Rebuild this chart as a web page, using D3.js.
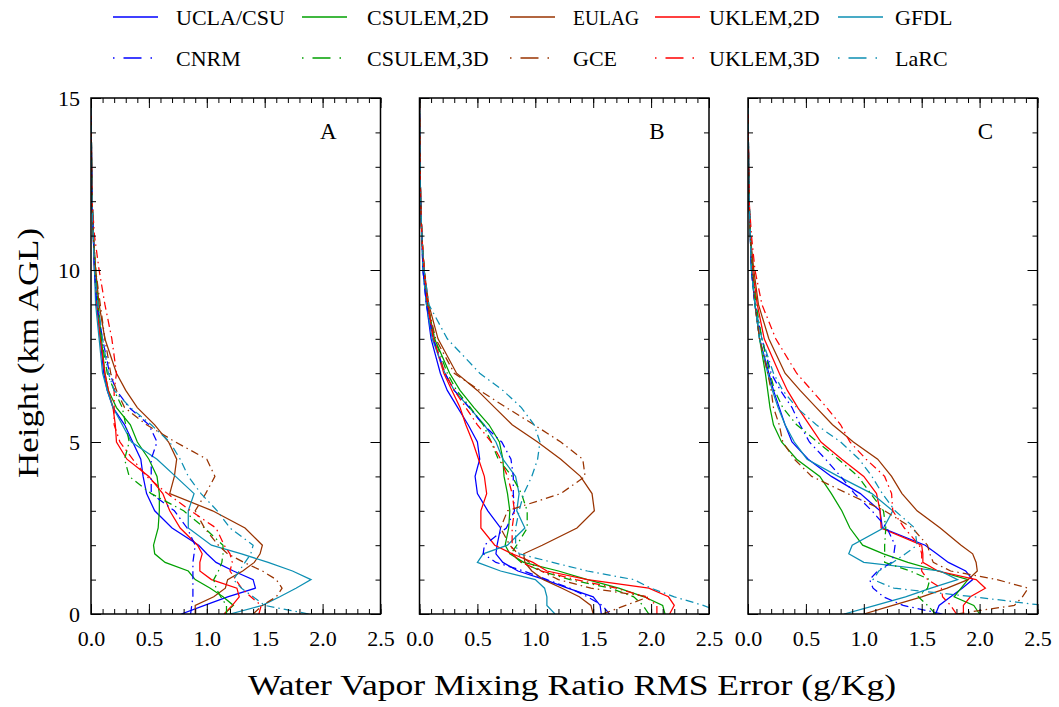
<!DOCTYPE html>
<html><head><meta charset="utf-8">
<script src="https://cdn.jsdelivr.net/npm/d3@7"></script>
<style>
body{margin:0;background:#fff}
svg{display:block}
text{font-family:"Liberation Serif","DejaVu Serif",serif;fill:#000}
</style>
</head><body>
<svg id="chart" width="1059" height="707"></svg>
<script>
// ---------------- data ----------------
const heights = [0, 0.25, 0.5, 0.75, 1, 1.25, 1.5, 1.75, 2, 2.5, 3, 3.5, 4, 4.5, 5, 5.5, 6, 6.5, 7, 8, 9, 10, 11, 12, 13, 14, 15];
const models = ["UCLA/CSU", "CSULEM,2D", "EULAG", "UKLEM,2D", "GFDL", "CNRM", "CSULEM,3D", "GCE", "UKLEM,3D", "LaRC"];
const panelLabels = ["A", "B", "C"];
const xTickValues = [0, 0.5, 1.0, 1.5, 2.0, 2.5];
const yTickValues = [0, 5, 10, 15];

// RMS error (g/kg) at each height, one row per model (same order as models)
const panelA = [
  [0.78, 0.98, 1.18, 1.42, 1.40, 1.23, 1.08, 1.00, 0.93, 0.70, 0.55, 0.48, 0.45, 0.43, 0.36, 0.29, 0.19, 0.14, 0.11, 0.08, 0.05, 0.03, 0.02, 0.01, 0.005, 0.003, 0],
  [1.15, 1.23, 1.14, 1.03, 0.90, 0.84, 0.64, 0.55, 0.54, 0.58, 0.59, 0.59, 0.57, 0.50, 0.40, 0.34, 0.22, 0.15, 0.12, 0.09, 0.06, 0.04, 0.02, 0.01, 0.005, 0.003, 0],
  [0.90, 0.90, 1.06, 1.16, 1.18, 1.31, 1.41, 1.46, 1.48, 1.33, 1.05, 0.68, 0.72, 0.74, 0.67, 0.55, 0.40, 0.30, 0.22, 0.12, 0.07, 0.04, 0.02, 0.01, 0.005, 0.003, 0],
  [1.15, 1.22, 1.28, 1.26, 1.04, 0.94, 0.94, 0.96, 0.92, 0.77, 0.68, 0.62, 0.50, 0.31, 0.22, 0.21, 0.19, 0.15, 0.12, 0.08, 0.05, 0.03, 0.02, 0.01, 0.005, 0.003, 0],
  [1.20, 1.48, 1.63, 1.77, 1.90, 1.74, 1.53, 1.30, 1.04, 0.84, 0.84, 0.89, 0.73, 0.57, 0.35, 0.27, 0.19, 0.14, 0.10, 0.07, 0.04, 0.03, 0.02, 0.01, 0.005, 0.003, 0],
  [0.86, 0.87, 0.88, 0.88, 0.88, 0.88, 0.88, 0.89, 0.90, 0.83, 0.72, 0.52, 0.52, 0.52, 0.57, 0.50, 0.33, 0.22, 0.16, 0.10, 0.05, 0.03, 0.02, 0.01, 0.005, 0.003, 0],
  [1.17, 1.17, 1.12, 1.08, 1.06, 1.10, 1.13, 1.14, 1.14, 0.98, 0.80, 0.52, 0.33, 0.29, 0.33, 0.30, 0.27, 0.20, 0.14, 0.09, 0.06, 0.04, 0.02, 0.01, 0.005, 0.003, 0],
  [1.40, 1.48, 1.60, 1.65, 1.60, 1.48, 1.32, 1.18, 1.10, 0.98, 0.90, 0.99, 1.07, 1.00, 0.73, 0.48, 0.29, 0.22, 0.17, 0.12, 0.08, 0.04, 0.02, 0.01, 0.005, 0.003, 0],
  [1.45, 1.47, 1.38, 1.30, 1.25, 1.20, 1.22, 1.20, 1.15, 1.08, 0.86, 0.66, 0.48, 0.36, 0.25, 0.20, 0.20, 0.20, 0.22, 0.18, 0.12, 0.07, 0.03, 0.01, 0.005, 0.003, 0],
  [1.88, 1.50, 1.40, 1.30, 1.23, 1.28, 1.33, 1.38, 1.40, 1.20, 1.09, 0.95, 0.84, 0.77, 0.68, 0.52, 0.34, 0.20, 0.15, 0.10, 0.06, 0.03, 0.02, 0.01, 0.005, 0.003, 0]
];
const panelB = [
  [1.57, 1.56, 1.50, 1.28, 1.08, 0.85, 0.72, 0.66, 0.67, 0.70, 0.59, 0.50, 0.48, 0.52, 0.50, 0.42, 0.33, 0.24, 0.18, 0.10, 0.06, 0.03, 0.02, 0.01, 0.005, 0.003, 0],
  [2.12, 2.10, 1.94, 1.72, 1.45, 1.20, 0.90, 0.78, 0.74, 0.77, 0.78, 0.76, 0.73, 0.72, 0.69, 0.60, 0.47, 0.35, 0.26, 0.13, 0.07, 0.04, 0.02, 0.01, 0.005, 0.003, 0],
  [1.50, 1.48, 1.38, 1.23, 1.07, 0.97, 0.91, 0.90, 1.06, 1.36, 1.51, 1.49, 1.39, 1.22, 1.02, 0.80, 0.65, 0.50, 0.32, 0.16, 0.08, 0.04, 0.02, 0.01, 0.005, 0.003, 0],
  [2.16, 2.20, 2.15, 1.98, 1.45, 1.10, 0.98, 0.80, 0.65, 0.53, 0.53, 0.58, 0.56, 0.51, 0.46, 0.40, 0.35, 0.28, 0.21, 0.12, 0.07, 0.04, 0.02, 0.01, 0.005, 0.003, 0],
  [1.17, 1.10, 1.10, 1.08, 1.00, 0.70, 0.50, 0.55, 0.76, 0.91, 0.84, 0.86, 0.83, 0.72, 0.66, 0.56, 0.43, 0.30, 0.22, 0.11, 0.06, 0.03, 0.02, 0.01, 0.005, 0.003, 0],
  [1.64, 1.58, 1.45, 1.30, 1.10, 0.90, 0.66, 0.55, 0.56, 0.75, 0.82, 0.81, 0.81, 0.79, 0.71, 0.55, 0.43, 0.30, 0.22, 0.12, 0.06, 0.03, 0.02, 0.01, 0.005, 0.003, 0],
  [1.98, 1.93, 1.85, 1.65, 1.30, 1.05, 0.88, 0.79, 0.84, 0.93, 0.93, 0.88, 0.80, 0.68, 0.62, 0.55, 0.44, 0.32, 0.24, 0.13, 0.07, 0.04, 0.02, 0.01, 0.005, 0.003, 0],
  [1.58, 1.78, 1.98, 1.48, 1.20, 1.05, 0.95, 0.85, 0.78, 0.70, 0.76, 1.22, 1.43, 1.41, 1.22, 0.99, 0.75, 0.52, 0.30, 0.14, 0.07, 0.04, 0.02, 0.01, 0.005, 0.003, 0],
  [2.05, 2.05, 1.95, 1.70, 1.35, 1.05, 0.88, 0.80, 0.80, 0.80, 0.82, 0.80, 0.76, 0.70, 0.62, 0.50, 0.40, 0.30, 0.22, 0.12, 0.07, 0.04, 0.02, 0.01, 0.005, 0.003, 0],
  [2.65, 2.45, 2.20, 2.00, 1.85, 1.45, 1.15, 0.86, 0.83, 0.83, 0.86, 0.90, 0.97, 1.02, 1.04, 0.99, 0.88, 0.72, 0.52, 0.24, 0.08, 0.04, 0.02, 0.01, 0.005, 0.003, 0]
];
const panelC = [
  [1.62, 1.65, 1.75, 1.85, 1.94, 1.88, 1.73, 1.63, 1.53, 1.16, 1.14, 0.97, 0.72, 0.52, 0.38, 0.32, 0.27, 0.22, 0.18, 0.10, 0.06, 0.03, 0.02, 0.01, 0.005, 0.003, 0],
  [2.00, 1.95, 1.78, 1.84, 1.90, 1.64, 1.38, 1.17, 0.99, 0.88, 0.81, 0.72, 0.62, 0.42, 0.29, 0.22, 0.19, 0.17, 0.15, 0.10, 0.06, 0.03, 0.02, 0.01, 0.005, 0.003, 0],
  [1.00, 1.25, 1.50, 1.72, 1.90, 1.98, 1.97, 1.94, 1.84, 1.66, 1.46, 1.33, 1.24, 1.12, 0.91, 0.73, 0.59, 0.45, 0.32, 0.18, 0.09, 0.05, 0.02, 0.01, 0.005, 0.003, 0],
  [1.86, 1.86, 1.92, 2.05, 1.97, 1.64, 1.51, 1.51, 1.50, 1.15, 1.14, 1.11, 1.00, 0.81, 0.63, 0.53, 0.43, 0.34, 0.27, 0.14, 0.08, 0.04, 0.02, 0.01, 0.005, 0.003, 0],
  [0.83, 1.10, 1.36, 1.58, 1.81, 1.66, 1.00, 0.87, 0.90, 1.17, 1.25, 1.07, 0.78, 0.51, 0.40, 0.32, 0.26, 0.21, 0.17, 0.10, 0.06, 0.03, 0.02, 0.01, 0.005, 0.003, 0],
  [1.68, 1.34, 1.17, 1.08, 1.05, 1.12, 1.24, 1.26, 1.27, 1.20, 1.07, 0.92, 0.80, 0.67, 0.53, 0.45, 0.38, 0.28, 0.20, 0.12, 0.06, 0.03, 0.02, 0.01, 0.005, 0.003, 0],
  [1.62, 1.55, 1.47, 1.55, 1.57, 1.40, 1.18, 1.18, 1.18, 1.19, 1.17, 1.06, 0.95, 0.78, 0.60, 0.42, 0.30, 0.23, 0.19, 0.12, 0.07, 0.04, 0.02, 0.01, 0.005, 0.003, 0],
  [1.80, 2.30, 2.37, 2.42, 2.15, 1.75, 1.60, 1.57, 1.55, 1.42, 1.18, 0.86, 0.55, 0.40, 0.30, 0.27, 0.22, 0.20, 0.17, 0.10, 0.06, 0.04, 0.02, 0.01, 0.005, 0.003, 0],
  [1.80, 1.75, 1.68, 1.67, 1.55, 1.50, 1.50, 1.50, 1.48, 1.35, 1.25, 1.24, 1.18, 1.02, 0.88, 0.80, 0.68, 0.55, 0.42, 0.24, 0.12, 0.06, 0.03, 0.01, 0.005, 0.003, 0],
  [2.65, 2.55, 1.95, 1.26, 1.08, 1.13, 1.25, 1.36, 1.46, 1.44, 1.27, 1.16, 1.07, 0.96, 0.80, 0.59, 0.42, 0.30, 0.22, 0.12, 0.06, 0.03, 0.02, 0.01, 0.005, 0.003, 0]
];
const panels = [panelA, panelB, panelC];

// ---------------- styles ----------------
const colors = ["#0000ff", "#00a000", "#993300", "#ff0000", "#0c8fb3",
                "#0000ff", "#00a000", "#993300", "#ff0000", "#0c8fb3"];
const dashDot = [false, false, false, false, false, true, true, true, true, true];
const plotDash = "8,4,1.5,4";

const svg = d3.select("#chart");
const panelLeft = [91, 419.5, 748];
const panelW = 289.5;
const plotTop = 98, plotBottom = 614;

const y = d3.scaleLinear().domain([0, 15]).range([plotBottom, plotTop]);
const minorX = d3.range(0, 26).map(i => i / 10);
const minorY = d3.range(0, 16);
const fontFam = '"Liberation Serif","DejaVu Serif",serif';

panels.forEach((series, p) => {
  const x = d3.scaleLinear().domain([0, 2.5]).range([panelLeft[p], panelLeft[p] + panelW]);
  const g = svg.append("g");

  const clipId = "clip" + p;
  svg.append("clipPath").attr("id", clipId).append("rect")
    .attr("x", x(0)).attr("y", plotTop).attr("width", panelW).attr("height", plotBottom - plotTop);

  const line = d3.line().x(d => x(d[0])).y(d => y(d[1]));
  const lines = g.append("g").attr("clip-path", `url(#${clipId})`);
  series.forEach((vals, i) => {
    lines.append("path")
      .datum(vals.map((v, k) => [v, heights[k]]))
      .attr("d", line)
      .attr("fill", "none")
      .attr("stroke", colors[i])
      .attr("stroke-width", 1.25)
      .attr("stroke-dasharray", dashDot[i] ? plotDash : null);
  });

  const addAxis = (axis, tx, ty, labels) => {
    const a = g.append("g").attr("transform", `translate(${tx},${ty})`).call(axis);
    a.select(".domain").remove();
    a.selectAll("line").attr("stroke", "#000").attr("stroke-width", 1);
    if (!labels) a.selectAll("text").remove();
    else a.selectAll("text").attr("font-size", 22).style("font-family", fontFam).attr("fill", "#000");
    return a;
  };
  addAxis(d3.axisBottom(x).tickValues(minorX).tickSizeInner(-5).tickSizeOuter(0).tickFormat(""), 0, plotBottom, false);
  addAxis(d3.axisBottom(x).tickValues(xTickValues).tickSizeInner(-10).tickSizeOuter(0)
    .tickPadding(16).tickFormat(d3.format(".1f")), 0, plotBottom, true);
  addAxis(d3.axisTop(x).tickValues(minorX).tickSizeInner(-5).tickSizeOuter(0).tickFormat(""), 0, plotTop, false);
  addAxis(d3.axisTop(x).tickValues(xTickValues).tickSizeInner(-10).tickSizeOuter(0).tickFormat(""), 0, plotTop, false);
  addAxis(d3.axisLeft(y).tickValues(minorY).tickSizeInner(-5).tickSizeOuter(0).tickFormat(""), x(0), 0, false);
  addAxis(d3.axisLeft(y).tickValues(yTickValues).tickSizeInner(-10).tickSizeOuter(0)
    .tickPadding(11).tickFormat(d3.format("d")), x(0), 0, p === 0);
  addAxis(d3.axisRight(y).tickValues(minorY).tickSizeInner(-5).tickSizeOuter(0).tickFormat(""), x(2.5), 0, false);
  addAxis(d3.axisRight(y).tickValues(yTickValues).tickSizeInner(-10).tickSizeOuter(0).tickFormat(""), x(2.5), 0, false);

  g.append("rect").attr("x", x(0)).attr("y", plotTop).attr("width", panelW).attr("height", plotBottom - plotTop)
    .attr("fill", "none").attr("stroke", "#000").attr("stroke-width", 1.5);

  g.append("text").attr("x", x(2.05)).attr("y", y(13.8)).attr("text-anchor", "middle")
    .attr("font-size", 23).text(panelLabels[p]);
});

svg.append("text").attr("x", 572).attr("y", 695).attr("text-anchor", "middle")
  .attr("font-size", 29).attr("textLength", 648).attr("lengthAdjust", "spacingAndGlyphs")
  .text("Water Vapor Mixing Ratio RMS Error (g/Kg)");
svg.append("text").attr("transform", "translate(38,353) rotate(-90)").attr("text-anchor", "middle")
  .attr("font-size", 29).attr("textLength", 250).attr("lengthAdjust", "spacingAndGlyphs")
  .text("Height (km AGL)");

const legX = [113, 302, 510, 655, 838];
const legTextX = [176, 367, 573, 709, 895];
const legTextW = [null, null, 66, null, null, null, null, null, null, null];
const legRowY = [17, 58];
const legDash = "1.5,9,18,9,1.5,30";
models.forEach((m, i) => {
  const col = i % 5, row = Math.floor(i / 5);
  const yy = legRowY[row];
  svg.append("line").attr("x1", legX[col]).attr("x2", legX[col] + 45)
    .attr("y1", yy).attr("y2", yy)
    .attr("stroke", colors[i]).attr("stroke-width", 1.5)
    .attr("stroke-dasharray", dashDot[i] ? legDash : null);
  const t = svg.append("text").attr("x", legTextX[col]).attr("y", yy + 8)
    .attr("font-size", 22).text(m);
  if (legTextW[i]) t.attr("textLength", legTextW[i]).attr("lengthAdjust", "spacingAndGlyphs");
});
</script>
</body></html>
